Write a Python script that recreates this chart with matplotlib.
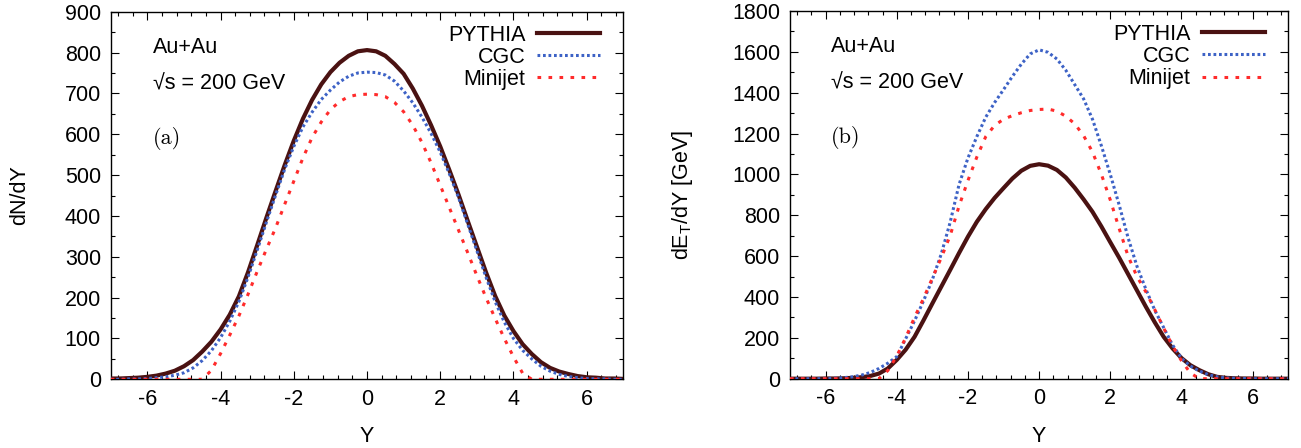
import matplotlib
matplotlib.use("Agg")
import matplotlib.pyplot as plt
from matplotlib.ticker import MultipleLocator

plt.rcParams["font.family"] = ["Liberation Sans", "DejaVu Sans"]
plt.rcParams["mathtext.fontset"] = "custom"
plt.rcParams["mathtext.rm"] = "Liberation Sans"
plt.rcParams["mathtext.it"] = "Liberation Sans:italic"
plt.rcParams["axes.unicode_minus"] = False

# Rapidity grid shared by both panels (step 0.25)
rapidity = [-7.0, -6.75, -6.5, -6.25, -6.0, -5.75, -5.5, -5.25, -5.0, -4.75,
            -4.5, -4.25, -4.0, -3.75, -3.5, -3.25, -3.0, -2.75, -2.5, -2.25,
            -2.0, -1.75, -1.5, -1.25, -1.0, -0.75, -0.5, -0.25, 0.0, 0.25,
            0.5, 0.75, 1.0, 1.25, 1.5, 1.75, 2.0, 2.25, 2.5, 2.75,
            3.0, 3.25, 3.5, 3.75, 4.0, 4.25, 4.5, 4.75, 5.0, 5.25,
            5.5, 5.75, 6.0, 6.25, 6.5, 6.75, 7.0]

# (a) particle multiplicity dN/dY
dndy_pythia = [2, 2, 3, 4, 6, 9, 14, 21, 32, 47,
               68, 92, 122, 158, 203, 262, 328, 395, 460, 524,
               584, 638, 684, 722, 752, 775, 792, 803, 806, 803,
               792, 772, 748, 712, 670, 622, 570, 512, 452, 388,
               325, 262, 204, 156, 118, 86, 62, 42, 28, 19,
               13, 8, 5, 4, 2, 2, 1]
dndy_cgc = [0, 0, 1, 1, 2, 4, 6, 10, 16, 28,
            46, 70, 102, 142, 190, 250, 316, 384, 450, 514,
            570, 618, 654, 685, 708, 728, 742, 750, 752, 751,
            745, 730, 706, 677, 642, 602, 556, 503, 445, 380,
            315, 250, 190, 140, 100, 71, 50, 32, 20, 12,
            7, 4, 2, 1, 1, 0, 0]
dndy_minijet = [0, 0, 0, 0, 0, 0, 0, 0, 0, 0,
                0, 22, 63, 108, 155, 208, 264, 318, 370, 428,
                485, 542, 592, 630, 660, 680, 692, 697, 698, 697,
                692, 678, 655, 622, 580, 530, 475, 420, 365, 310,
                254, 200, 149, 100, 55, 15, 0, 0, 0, 0,
                0, 0, 0, 0, 0, 0, 0]

# (b) transverse energy dE_T/dY [GeV]
detdy_pythia = [0, 0, 0, 0, 1, 1, 2, 4, 7, 13,
                25, 50, 92, 142, 205, 285, 368, 450, 532, 615,
                695, 768, 830, 885, 933, 980, 1018, 1042, 1050, 1043,
                1022, 985, 935, 878, 817, 745, 668, 592, 512, 432,
                352, 276, 205, 148, 101, 66, 42, 22, 9, 4,
                2, 1, 1, 0, 0, 0, 0]
detdy_cgc = [0, 0, 0, 0, 1, 2, 5, 9, 17, 30,
             50, 76, 108, 195, 283, 380, 485, 610, 765, 950,
             1080, 1185, 1280, 1352, 1415, 1480, 1540, 1590, 1610, 1598,
             1565, 1510, 1440, 1370, 1270, 1140, 1000, 850, 690, 550,
             438, 335, 250, 165, 100, 62, 38, 20, 9, 4,
             2, 1, 0, 0, 0, 0, 0]
detdy_minijet = [0, 0, 0, 0, 0, 0, 0, 0, 0, 0,
                 0, 40, 110, 200, 300, 392, 492, 592, 700, 845,
                 970, 1085, 1185, 1240, 1270, 1288, 1302, 1313, 1318, 1320,
                 1310, 1285, 1248, 1190, 1110, 1000, 875, 735, 600, 500,
                 425, 338, 248, 160, 88, 28, 0, 0, 0, 0,
                 0, 0, 0, 0, 0, 0, 0]

series_labels = ["PYTHIA", "CGC", "Minijet"]
x_ticks = [-6, -4, -2, 0, 2, 4, 6]

PYTHIA_COLOR = "#4a1212"
CGC_COLOR = "#3d62c6"
MINIJET_COLOR = "#ff2b2b"

fig = plt.figure(figsize=(13.01, 4.48), dpi=100)
ax_a = fig.add_axes([0.0851, 0.1533, 0.3940, 0.8206])
ax_b = fig.add_axes([0.6072, 0.1547, 0.3830, 0.8207])


def draw_panel(ax, pythia, cgc, minijet, ymax, ymajor, ylabel, tag, ylabel_x):
    ax.plot(rapidity, pythia, color=PYTHIA_COLOR, lw=3.0, solid_joinstyle="round",
            label=series_labels[0], zorder=3)
    ax.plot(rapidity, cgc, color=CGC_COLOR, lw=2.2, linestyle=(0, (0.9, 0.9)),
            label=series_labels[1], zorder=4)
    ax.plot(rapidity, minijet, color=MINIJET_COLOR, lw=2.2, linestyle=(0, (1.2, 2.4)),
            label=series_labels[2], zorder=5)

    ax.set_xlim(-7, 7)
    ax.set_ylim(0, ymax)
    ax.set_xticks(x_ticks)
    ax.xaxis.set_minor_locator(MultipleLocator(0.4))
    ax.yaxis.set_major_locator(MultipleLocator(ymajor))
    ax.yaxis.set_minor_locator(MultipleLocator(ymajor / 2))
    ax.tick_params(which="both", direction="in", top=True, right=True, width=0.8)
    ax.tick_params(which="major", length=6, labelsize=15.5, pad=7)
    ax.tick_params(which="minor", length=3)
    for sp in ax.spines.values():
        sp.set_linewidth(1.0)

    ax.set_xlabel("Y", fontsize=15.5)
    ax.xaxis.set_label_coords(0.5, -0.128)
    ax.set_ylabel(ylabel, fontsize=15.5)
    ax.yaxis.set_label_coords(ylabel_x, 0.5)

    ax.text(0.082, 0.903, "Au+Au", transform=ax.transAxes, fontsize=15.5,
            ha="left", va="center")
    ax.text(0.082, 0.803, "\u221as = 200 GeV", transform=ax.transAxes, fontsize=15.5,
            ha="left", va="center")
    ax.text(0.082, 0.656, tag, transform=ax.transAxes, fontsize=16,
            family="cmr10", ha="left", va="center")

    ax.legend(loc="upper right", bbox_to_anchor=(0.979, 1.0), frameon=False,
              markerfirst=False, fontsize=15.5, handlelength=2.9, handletextpad=0.55,
              labelspacing=0.05, borderaxespad=0.2)


draw_panel(ax_a, dndy_pythia, dndy_cgc, dndy_minijet, 900, 100, "dN/dY", "(a)", -0.158)
draw_panel(ax_b, detdy_pythia, detdy_cgc, detdy_minijet, 1800, 200,
           r"dE$_{\mathrm{T}}$/dY [GeV]", "(b)", -0.19)

fig.savefig("out.png", dpi=100)
